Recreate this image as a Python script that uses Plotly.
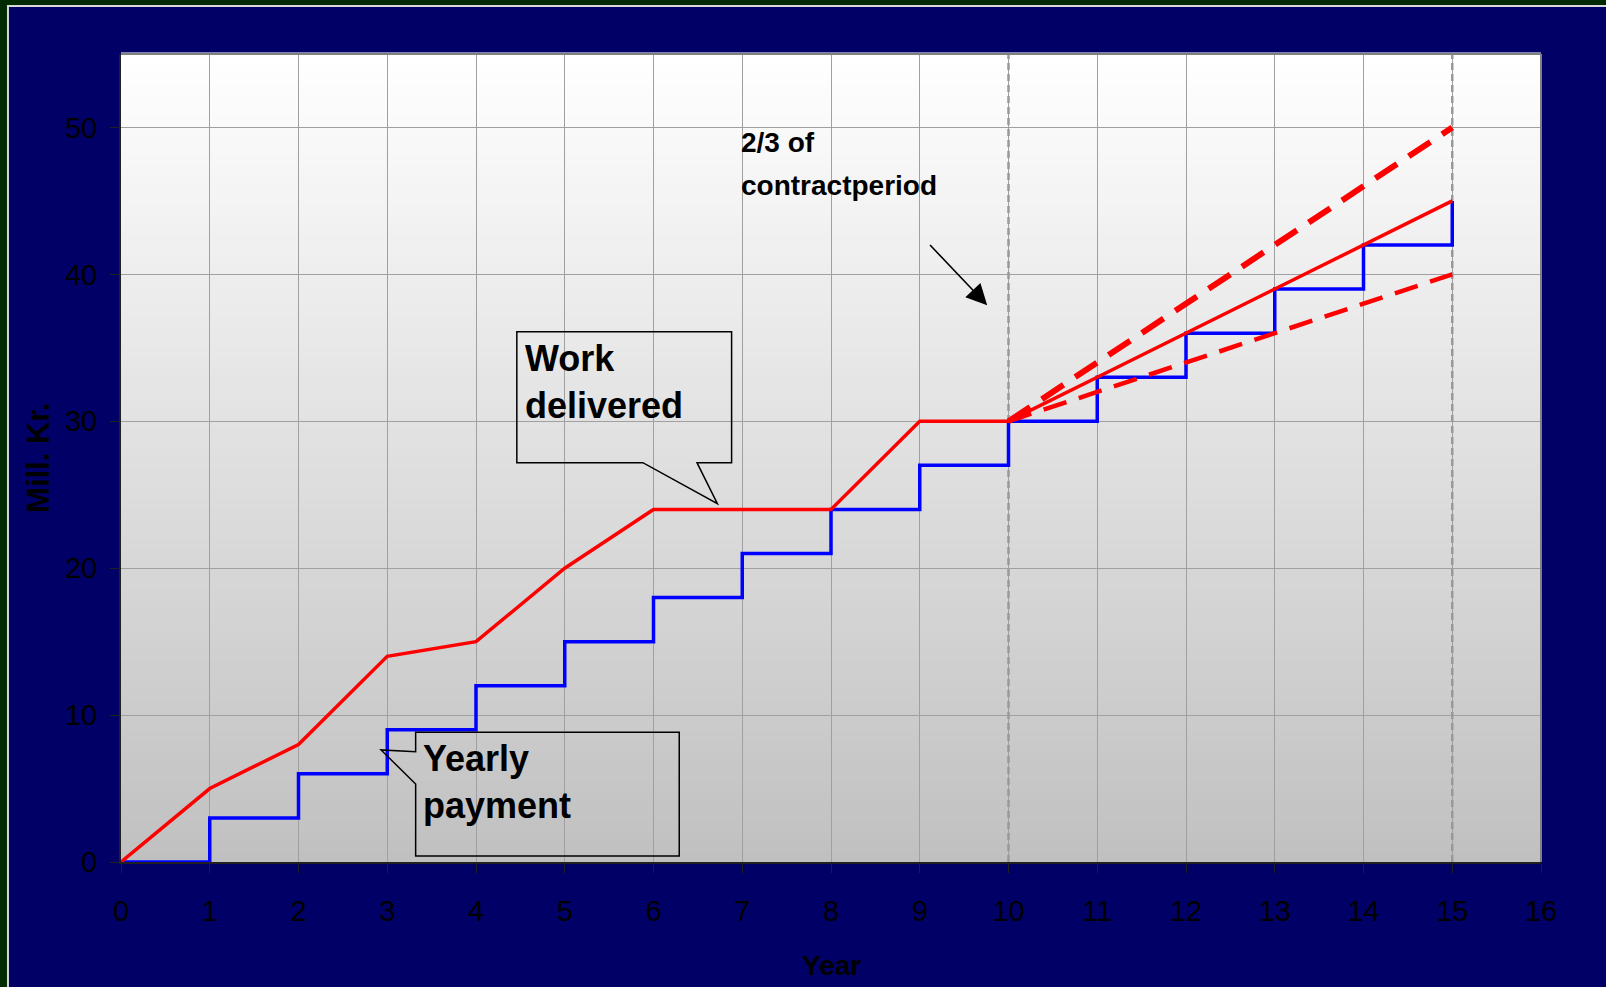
import plotly.graph_objects as go

# ---------------- data ----------------
years = list(range(0, 16))
work_delivered = [0, 5, 8, 14, 15, 20, 24, 24, 24, 30, 30, 33, 36, 39, 42, 45]
yearly_payment = [0, 3, 6, 9, 12, 15, 18, 21, 24, 27, 30, 33, 36, 39, 42, 45]
upper_years = [10, 11, 12, 13, 14, 15]
upper_values = [30, 34, 38, 42, 46, 50]
lower_years = [10, 11, 12, 13, 14, 15]
lower_values = [30, 32, 34, 36, 38, 40]
marker_years = [10, 15]
x_ticks = list(range(0, 17))
y_ticks = [0, 10, 20, 30, 40, 50]
Y_MAX = 55

FONT = "Liberation Sans, Arial, sans-serif"
NAVY = "#000066"

fig = go.Figure()

# dashed vertical markers (2/3 of period and end of period)
for xv in marker_years:
    fig.add_trace(go.Scatter(x=[xv, xv], y=[0, Y_MAX], mode="lines",
                             line=dict(color="#999999", width=2.5, dash="7px,4px"),
                             cliponaxis=False, showlegend=False, hoverinfo="skip"))

fig.add_trace(go.Scatter(x=years, y=yearly_payment, mode="lines",
                         line=dict(color="#0000ff", width=3.5, shape="hv"),
                         cliponaxis=False, showlegend=False))
fig.add_trace(go.Scatter(x=years, y=work_delivered, mode="lines",
                         line=dict(color="#ff0000", width=3.5),
                         cliponaxis=False, showlegend=False))
fig.add_trace(go.Scatter(x=upper_years, y=upper_values, mode="lines",
                         line=dict(color="#ff0000", width=6, dash="26px,14px"),
                         cliponaxis=False, showlegend=False))
fig.add_trace(go.Scatter(x=lower_years, y=lower_values, mode="lines",
                         line=dict(color="#ff0000", width=4.5, dash="24px,13px"),
                         cliponaxis=False, showlegend=False))

shapes = []
# navy frame over the dark green background
shapes.append(dict(type="rect", xref="paper", yref="paper",
                   x0=-0.0796, x1=1.2, y0=-0.4, y1=1.0594,
                   fillcolor=NAVY, line=dict(color="#d8d8d8", width=2), layer="below"))
# vertical gradient of the plot area (white -> silver)
N = 80
for i in range(N):
    t = (i + 0.5) / N  # 0 bottom .. 1 top
    v = int(round(192 + (255 - 192) * t))
    c = f"rgb({v},{v},{v})"
    shapes.append(dict(type="rect", xref="x domain", yref="y domain",
                       x0=0, x1=1, y0=i / N, y1=(i + 1) / N + 0.002,
                       fillcolor=c, line=dict(width=0), layer="below"))
# top/right border of plot area
shapes.append(dict(type="line", xref="x domain", yref="y domain", x0=0, x1=1, y0=1, y1=1,
                   line=dict(color="#808080", width=2), layer="above"))
shapes.append(dict(type="line", xref="x domain", yref="y domain", x0=1, x1=1, y0=0, y1=1,
                   line=dict(color="#808080", width=2), layer="above"))


def path(pts):
    return "M " + " L ".join(f"{x},{y}" for x, y in pts) + " Z"


# callout "Work delivered"
work_callout = [(4.46, 36.1), (6.88, 36.1), (6.88, 27.18), (6.49, 27.18),
                (6.72, 24.39), (5.88, 27.18), (4.46, 27.18)]
shapes.append(dict(type="path", xref="x", yref="y", path=path(work_callout),
                   line=dict(color="black", width=1.5), fillcolor="rgba(0,0,0,0)", layer="above"))
# callout "Yearly payment"
pay_callout = [(3.32, 8.84), (6.29, 8.84), (6.29, 0.41), (3.32, 0.41),
               (3.32, 5.31), (2.93, 7.63), (3.32, 7.51)]
shapes.append(dict(type="path", xref="x", yref="y", path=path(pay_callout),
                   line=dict(color="black", width=1.5), fillcolor="rgba(0,0,0,0)", layer="above"))

annotations = [
    dict(x=4.53, y=32.7, xref="x", yref="y", xanchor="left", yanchor="middle", align="left",
         text="<b>Work<br>delivered</b>", showarrow=False,
         font=dict(family=FONT, size=36, color="black")),
    dict(x=3.38, y=5.45, xref="x", yref="y", xanchor="left", yanchor="middle", align="left",
         text="<b>Yearly<br>payment</b>", showarrow=False,
         font=dict(family=FONT, size=36, color="black")),
    dict(x=6.96, y=48.98, xref="x", yref="y", xanchor="left", yanchor="middle",
         text="<b>2/3 of</b>", showarrow=False,
         font=dict(family=FONT, size=28, color="black")),
    dict(x=6.96, y=46.05, xref="x", yref="y", xanchor="left", yanchor="middle",
         text="<b>contractperiod</b>", showarrow=False,
         font=dict(family=FONT, size=28, color="black")),
    dict(x=9.76, y=37.9, ax=9.10, ay=42.1, xref="x", yref="y", axref="x", ayref="y",
         text="", showarrow=True, arrowhead=2, arrowsize=2.6, arrowwidth=1.6,
         arrowcolor="black"),
    dict(x=-0.0585, y=0.5, xref="paper", yref="paper", xanchor="center", yanchor="middle",
         text="<b>Mill. Kr.</b>", textangle=-90, showarrow=False,
         font=dict(family=FONT, size=31, color="black")),
    dict(x=0.5, y=-0.1287, xref="paper", yref="paper", xanchor="center", yanchor="middle",
         text="<b>Year</b>", showarrow=False,
         font=dict(family=FONT, size=28, color="black")),
]

fig.update_layout(
    width=1606, height=987, autosize=False,
    margin=dict(l=121, r=65, t=54, b=125, pad=0),
    paper_bgcolor="#002a00", plot_bgcolor="#ffffff",
    shapes=shapes, annotations=annotations, showlegend=False,
    font=dict(family=FONT, color="black"),
)
fig.update_xaxes(range=[0, 16], tickvals=x_ticks, ticktext=[str(v) for v in x_ticks],
                 showgrid=True, gridcolor="#a0a0a0", gridwidth=1,
                 showline=True, linecolor="#202020", linewidth=2,
                 ticks="outside", ticklen=9, tickcolor="#202020", tickwidth=1,
                 tickfont=dict(family=FONT, size=29, color="black"),
                 ticklabelstandoff=13, zeroline=False, fixedrange=True)
fig.update_yaxes(range=[0, Y_MAX], tickvals=y_ticks, ticktext=[str(v) for v in y_ticks],
                 showgrid=True, gridcolor="#a0a0a0", gridwidth=1,
                 showline=True, linecolor="#202020", linewidth=2,
                 ticks="outside", ticklen=9, tickcolor="#202020", tickwidth=1,
                 tickfont=dict(family=FONT, size=29, color="black"),
                 ticklabelstandoff=7, zeroline=False, fixedrange=True)

fig.write_html("out.html",
               config={"displayModeBar": False},
               post_script="document.body.style.margin='0';document.body.style.background='#002a00';")
